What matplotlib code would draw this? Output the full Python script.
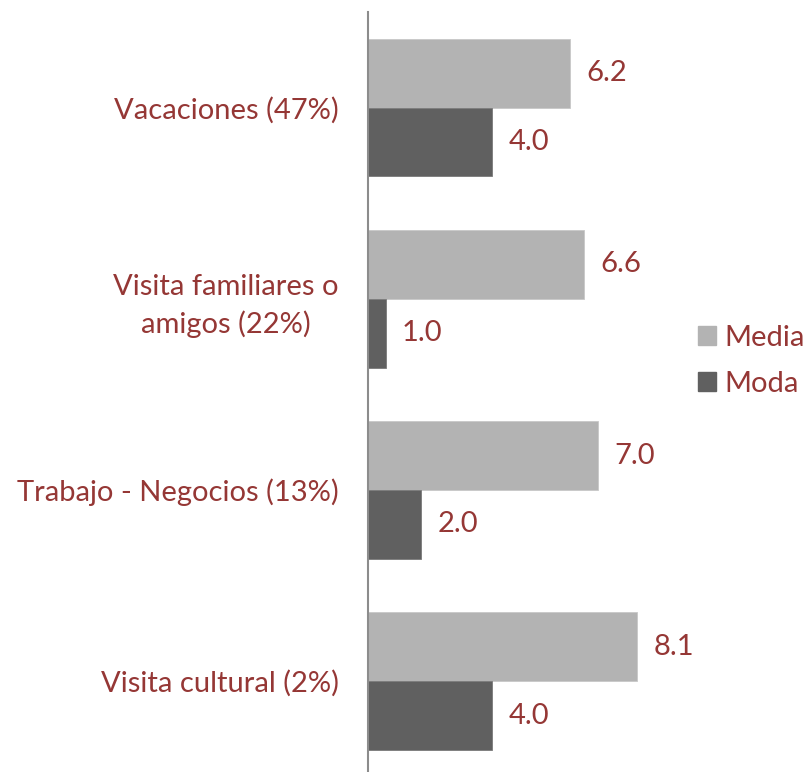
import numpy as np
import matplotlib.pyplot as plt
from matplotlib.patches import Patch

categorias = ['Vacaciones (47%)', 'Visita familiares o\namigos (22%)',
              'Trabajo - Negocios (13%)', 'Visita cultural (2%)']
media = [6.2, 6.6, 7.0, 8.1]
moda = [4.0, 1.0, 2.0, 4.0]

c_media = '#b3b3b3'
c_moda = '#606060'
c_text = '#953735'
plt.rcParams['font.family'] = ['Lato', 'DejaVu Sans']
fs = 21

fig = plt.figure(figsize=(8.1, 7.72), dpi=100)
ax = fig.add_axes([368 / 810, 0, (680 - 368) / 810, (772 - 12) / 772])

y = np.arange(len(categorias))
h = 0.36
ax.barh(y - h / 2, media, height=h, color=c_media, edgecolor='#c8c8c8', linewidth=0.6)
ax.barh(y + h / 2, moda, height=h, color=c_moda, edgecolor='#7a7a7a', linewidth=0.6)

for i in range(len(categorias)):
    ax.text(media[i] + 0.46, y[i] - h / 2, f'{media[i]:.1f}', va='center', ha='left',
            fontsize=fs, color=c_text)
    ax.text(moda[i] + 0.46, y[i] + h / 2, f'{moda[i]:.1f}', va='center', ha='left',
            fontsize=fs, color=c_text)

ax.set_xlim(0.5, 9.3)
ax.set_ylim(3.475, -0.5)
ax.set_yticks(y)
ax.set_yticklabels(categorias, fontsize=fs, color=c_text, multialignment='center',
                   linespacing=1.45)
ax.tick_params(axis='y', length=0, pad=21)
ax.set_xticks([])
for s in ['top', 'right', 'bottom']:
    ax.spines[s].set_visible(False)
ax.spines['left'].set_color('#8c8c8c')
ax.spines['left'].set_linewidth(1.5)

handles = [Patch(color=c_media, label='Media'), Patch(color=c_moda, label='Moda')]
leg = fig.legend(handles=handles, loc='center left', bbox_to_anchor=(698 / 810, 1 - 361 / 772),
                 frameon=False, fontsize=fs, handlelength=0.62, handleheight=0.62,
                 handletextpad=0.3, labelspacing=0.7, borderpad=0, borderaxespad=0)
for t in leg.get_texts():
    t.set_color(c_text)

fig.savefig('out.png', dpi=100)
